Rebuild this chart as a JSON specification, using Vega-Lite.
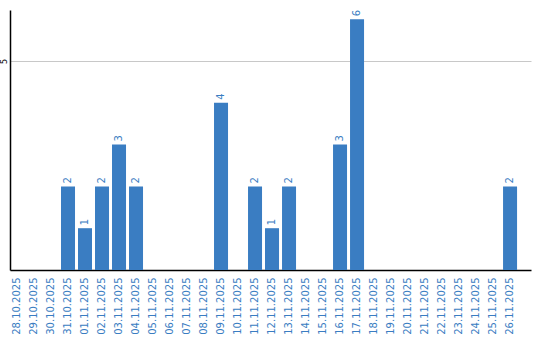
{
  "$schema": "https://vega.github.io/schema/vega-lite/v6.json",
  "autosize": {"type": "none"},
  "padding": {"left": 10, "top": 10, "right": 9, "bottom": 70},
  "width": 521,
  "height": 260,
  "background": "white",
  "config": {"view": {"stroke": null}, "font": "DejaVu Sans"},
  "data": {"values": [
    {"date": "28.10.2025", "count": 0},
    {"date": "29.10.2025", "count": 0},
    {"date": "30.10.2025", "count": 0},
    {"date": "31.10.2025", "count": 2},
    {"date": "01.11.2025", "count": 1},
    {"date": "02.11.2025", "count": 2},
    {"date": "03.11.2025", "count": 3},
    {"date": "04.11.2025", "count": 2},
    {"date": "05.11.2025", "count": 0},
    {"date": "06.11.2025", "count": 0},
    {"date": "07.11.2025", "count": 0},
    {"date": "08.11.2025", "count": 0},
    {"date": "09.11.2025", "count": 4},
    {"date": "10.11.2025", "count": 0},
    {"date": "11.11.2025", "count": 2},
    {"date": "12.11.2025", "count": 1},
    {"date": "13.11.2025", "count": 2},
    {"date": "14.11.2025", "count": 0},
    {"date": "15.11.2025", "count": 0},
    {"date": "16.11.2025", "count": 3},
    {"date": "17.11.2025", "count": 6},
    {"date": "18.11.2025", "count": 0},
    {"date": "19.11.2025", "count": 0},
    {"date": "20.11.2025", "count": 0},
    {"date": "21.11.2025", "count": 0},
    {"date": "22.11.2025", "count": 0},
    {"date": "23.11.2025", "count": 0},
    {"date": "24.11.2025", "count": 0},
    {"date": "25.11.2025", "count": 0},
    {"date": "26.11.2025", "count": 2}
  ]},
  "encoding": {
    "x": {
      "field": "date", "type": "ordinal", "sort": null,
      "scale": {"paddingInner": 0.176, "paddingOuter": 0.41, "align": 0},
      "axis": {
        "title": null, "labelAngle": -90, "labelAlign": "right", "labelBaseline": "middle",
        "labelPadding": 7, "ticks": false, "labelFontSize": 10, "labelColor": "#3a7dc2",
        "domainColor": "#000000", "domainWidth": 1.5, "labelFont": "DejaVu Sans"
      }
    },
    "y": {
      "field": "count", "type": "quantitative",
      "scale": {"domain": [0, 6.22], "nice": false, "zero": true},
      "axis": {
        "title": null, "values": [5], "ticks": false, "grid": true, "gridColor": "#c8c8c8",
        "labelAngle": -90, "labelAlign": "center", "labelBaseline": "bottom", "labelPadding": 2,
        "labelFontSize": 8, "labelColor": "#000000", "domainColor": "#000000", "domainWidth": 1.5
      }
    }
  },
  "layer": [
    {"mark": {"type": "bar", "color": "#3a7dc2"}},
    {
      "transform": [{"filter": "datum.count > 0"}],
      "mark": {"type": "text", "angle": 270, "align": "left", "baseline": "middle", "dx": 3, "fontSize": 10, "color": "#3a7dc2", "font": "DejaVu Sans"},
      "encoding": {"text": {"field": "count", "type": "quantitative"}}
    }
  ]
}
